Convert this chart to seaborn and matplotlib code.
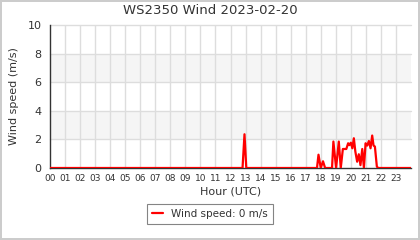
import matplotlib
matplotlib.use("Agg")
import matplotlib.pyplot as plt
import seaborn as sns
import pandas as pd
from matplotlib.ticker import MultipleLocator

title = "WS2350 Wind 2023-02-20"
x_label = "Hour (UTC)"
y_label = "Wind speed (m/s)"
legend_label = "Wind speed: 0 m/s"
hour_labels = [f"{h:02d}" for h in range(24)]

hours = [0, 12.80, 12.93, 13.05, 17.75, 17.85, 18.0, 18.15, 18.29, 18.75, 18.84,
         19.02, 19.2, 19.33, 19.47, 19.6, 19.7, 19.82, 19.9, 20.0, 20.1, 20.2,
         20.3, 20.42, 20.53, 20.64, 20.76, 20.87, 20.98, 21.09, 21.2, 21.31,
         21.42, 21.51, 21.6, 21.73, 21.82, 24.0]
speeds = [0, 0, 2.36, 0, 0, 0.93, 0, 0.47, 0, 0, 1.85,
          0, 1.85, 0, 1.33, 1.33, 1.33, 1.73, 1.6, 1.77, 1.38, 2.08,
          1.15, 0.44, 0.96, 0.2, 1.33, 0, 1.73, 1.57, 1.89, 1.38,
          2.27, 1.57, 1.5, 0.1, 0, 0]

df = pd.DataFrame({"hour": hours, "speed": speeds})

sns.set_style("white")
plt.rcParams['font.family'] = ['DejaVu Sans']

fig = plt.figure(figsize=(4.2, 2.4), dpi=100)
fig.patch.set_edgecolor("#cccccc")
fig.patch.set_linewidth(1.5)
ax = fig.add_axes([50/420, 1-168/240, 361/420, 143/240])

# bands
for lo, hi in [(2, 4), (6, 8)]:
    ax.axhspan(lo, hi, color="#f5f5f5", zorder=0, lw=0)
for y in [2, 4, 6, 8, 10]:
    ax.axhline(y, color="#dddddd", lw=1, zorder=1, clip_on=False)
for h in range(1, 24):
    ax.axvline(h, color="#dddddd", lw=1, zorder=1)

sns.lineplot(data=df, x="hour", y="speed", ax=ax, color="#ff0000", lw=1.6,
             label=legend_label, zorder=3)

ax.set_xlim(0, 24)
ax.set_ylim(0, 10)
ax.set_xticks(range(24))
ax.set_xticklabels(hour_labels, fontsize=6.5, color="#333333")
ax.tick_params(axis="x", length=0, pad=4)
ax.yaxis.set_major_locator(MultipleLocator(2))
ax.yaxis.set_minor_locator(MultipleLocator(1))
ax.tick_params(axis="y", which="major", length=4, width=0.8, color="#333333",
               labelsize=8, labelcolor="#333333", pad=2)
ax.tick_params(axis="y", which="minor", length=2.5, width=0.8, color="#333333")
for s in ["top", "right"]:
    ax.spines[s].set_visible(False)
for s in ["left", "bottom"]:
    ax.spines[s].set_color("#333333")
    ax.spines[s].set_linewidth(1)
ax.set_xlabel(x_label, fontsize=8, color="#333333", labelpad=3)
ax.set_ylabel(y_label, fontsize=8, color="#333333", labelpad=6)

fig.text(0.5, 1-11/240, title, ha="center", va="center", fontsize=9.5, color="#333333")

leg = ax.legend(loc="center", bbox_to_anchor=(210/420, 1-214/240),
                bbox_transform=fig.transFigure, frameon=True, fancybox=False,
                fontsize=7.5, handlelength=1.0, borderpad=0.5, handletextpad=0.8)
leg.get_frame().set_edgecolor("#666666")
leg.get_frame().set_linewidth(0.8)
for t in leg.get_texts():
    t.set_color("#333333")

fig.savefig("out.png", dpi=100)
